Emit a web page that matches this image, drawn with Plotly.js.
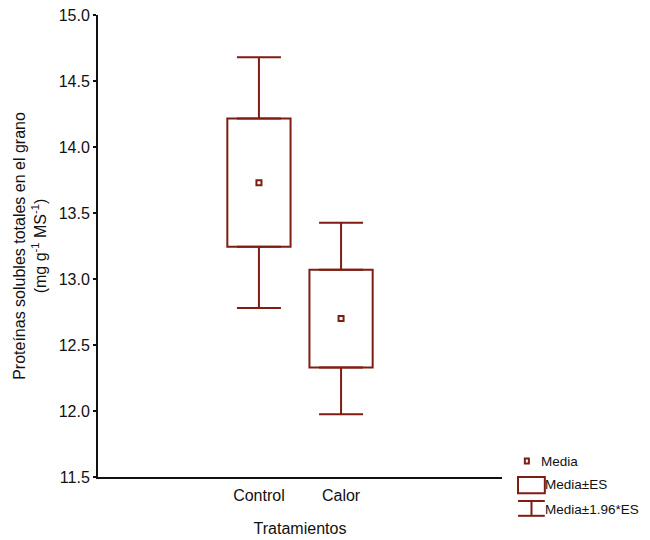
<!DOCTYPE html>
<html><head><meta charset="utf-8">
<script src="https://cdn.plot.ly/plotly-3.0.1.min.js"></script>
<style>body{margin:0;background:#fff}#c{width:650px;height:540px}</style>
</head><body><div id="c"></div>
<script>
const categories = ['Control', 'Calor'];
const means = [13.73, 12.70];
const se = [0.485, 0.37];
const ciFactor = 1.96;
const legendLabels = ['Media', 'Media±ES', 'Media±1.96*ES'];
const yTicks = [11.5, 12.0, 12.5, 13.0, 13.5, 14.0, 14.5, 15.0];

const col = '#7f1d12';
const q1 = means.map((m, i) => m - se[i]);
const q3 = means.map((m, i) => m + se[i]);
const upWhisk = se.map(s => (ciFactor - 1) * s);

const traces = [
  // box: mean ± SE
  {type: 'bar', x: categories, base: q1, y: se.map(s => 2 * s), width: 0.77,
   marker: {color: 'rgba(0,0,0,0)', line: {color: col, width: 2}}, showlegend: false, hoverinfo: 'skip'},
  // upper whisker: from mean+SE to mean+1.96 SE
  {type: 'scatter', mode: 'markers', x: categories, y: q3, marker: {size: 1, opacity: 0}, showlegend: false,
   error_y: {type: 'data', symmetric: false, array: upWhisk, arrayminus: [0, 0], color: col, thickness: 2, width: 22}},
  // lower whisker: from mean-SE to mean-1.96 SE
  {type: 'scatter', mode: 'markers', x: categories, y: q1, marker: {size: 1, opacity: 0}, showlegend: false,
   error_y: {type: 'data', symmetric: false, array: [0, 0], arrayminus: upWhisk, color: col, thickness: 2, width: 22}},
  // mean
  {type: 'scatter', mode: 'markers', x: categories, y: means, showlegend: false,
   marker: {symbol: 'square-open', size: 5, color: col, line: {width: 2, color: col}}}
];

const ff = 'Liberation Sans, Arial, sans-serif';
const txtFont = {family: ff, size: 16, color: '#111'};
const legFont = {family: ff, size: 13.5, color: '#111'};

const shapes = [
  // legend: mean marker
  {type: 'rect', xref: 'paper', yref: 'paper', x0: 1.0565, x1: 1.0665, y0: 0.040, y1: 0.029, line: {color: col, width: 2}},
  // legend: box
  {type: 'rect', xref: 'paper', yref: 'paper', x0: 1.0396, x1: 1.106, y0: 0.0, y1: -0.035, line: {color: col, width: 2}},
  // legend: I beam
  {type: 'line', xref: 'paper', yref: 'paper', x0: 1.0396, x1: 1.106, y0: -0.052, y1: -0.052, line: {color: col, width: 2}},
  {type: 'line', xref: 'paper', yref: 'paper', x0: 1.0396, x1: 1.106, y0: -0.084, y1: -0.084, line: {color: col, width: 2}},
  {type: 'line', xref: 'paper', yref: 'paper', x0: 1.073, x1: 1.073, y0: -0.052, y1: -0.084, line: {color: col, width: 2}}
];

const annotations = [
  {xref: 'paper', yref: 'paper', x: 1.095, y: 0.034, xanchor: 'left', yanchor: 'middle', text: legendLabels[0], showarrow: false, font: legFont, borderpad: 0},
  {xref: 'paper', yref: 'paper', x: 1.104, y: -0.017, xanchor: 'left', yanchor: 'middle', text: legendLabels[1], showarrow: false, font: legFont, borderpad: 0},
  {xref: 'paper', yref: 'paper', x: 1.104, y: -0.071, xanchor: 'left', yanchor: 'middle', text: legendLabels[2], showarrow: false, font: legFont, borderpad: 0}
];

const layout = {
  width: 650, height: 540,
  margin: {l: 98, r: 148, t: 15, b: 63},
  paper_bgcolor: '#fff', plot_bgcolor: '#fff',
  showlegend: false,
  font: txtFont,
  xaxis: {type: 'category', categoryarray: categories, range: [-1.96, 2.96],
    showline: true, linecolor: '#111', linewidth: 2, ticks: '', showgrid: false, zeroline: false,
    ticklabelstandoff: 3,
    tickfont: txtFont, title: {text: 'Tratamientos', font: txtFont, standoff: 20}},
  yaxis: {range: [11.5, 15.0], tickvals: yTicks, ticktext: yTicks.map(v => v.toFixed(1)),
    showline: true, linecolor: '#111', linewidth: 2, ticks: 'outside', ticklen: 3, tickcolor: '#111', tickwidth: 1.5,
    showgrid: false, zeroline: false, tickfont: txtFont,
    title: {text: 'Proteínas solubles totales en el grano<br>(mg g<sup>-1</sup> MS<sup>-1</sup>)', font: txtFont, standoff: 8}},
  shapes: shapes,
  annotations: annotations
};

Plotly.newPlot('c', traces, layout, {displayModeBar: false, staticPlot: true});
</script></body></html>
